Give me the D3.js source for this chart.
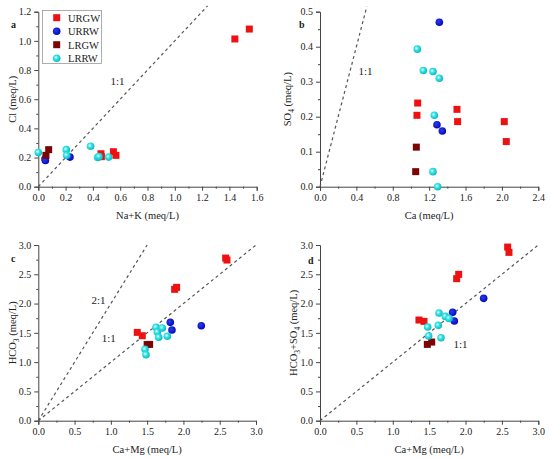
<!DOCTYPE html>
<html>
<head>
<meta charset="utf-8">
<script src="https://cdn.jsdelivr.net/npm/d3@7"></script>
<style>
  body { margin: 0; background: #fff; }
  text { font-family: "Liberation Serif", "Times New Roman", serif; fill: #222; }
</style>
</head>
<body>
<div id="chart"></div>
<script>
'use strict';
// series names
var seriesNames = ['URGW', 'URRW', 'LRGW', 'LRRW'];

// panel a: Na+K vs Cl
var urgwA = [[1.44, 1.013], [1.546, 1.081], [0.459, 0.226], [0.462, 0.206], [0.55, 0.24], [0.569, 0.215]];
var urrwA = [[0.049, 0.192], [0.052, 0.18], [0.232, 0.203]];
var lrgwA = [[0.056, 0.215], [0.076, 0.254]];
var lrrwA = [[0.0, 0.235], [0.205, 0.254], [0.208, 0.215], [0.383, 0.277], [0.435, 0.201], [0.445, 0.206], [0.515, 0.203]];

// panel b: Ca vs SO4
var urgwB = [[1.074, 0.239], [1.066, 0.204], [1.506, 0.221], [1.513, 0.186], [2.026, 0.186], [2.048, 0.129]];
var urrwB = [[1.312, 0.47], [1.286, 0.177], [1.345, 0.159]];
var lrgwB = [[1.059, 0.113], [1.052, 0.043]];
var lrrwB = [[1.07, 0.393], [1.136, 0.332], [1.242, 0.329], [1.312, 0.31], [1.257, 0.204], [1.242, 0.043], [1.293, 0.0]];

// panel c: Ca+Mg vs HCO3
var urgwC = [[1.364, 1.508], [1.433, 1.451], [1.879, 2.243], [1.906, 2.277], [2.582, 2.777], [2.6, 2.743]];
var urrwC = [[1.819, 1.679], [1.842, 1.548], [2.246, 1.622]];
var lrgwC = [[1.5, 1.3], [1.534, 1.303]];
var lrrwC = [[1.47, 1.219], [1.484, 1.127], [1.622, 1.595], [1.64, 1.514], [1.659, 1.424], [1.709, 1.583], [1.778, 1.441]];

// panel d: Ca+Mg vs HCO3+SO4
var urgwD = [[1.36, 1.719], [1.429, 1.696], [1.878, 2.425], [1.906, 2.499], [2.579, 2.965], [2.597, 2.874]];
var urrwD = [[1.823, 1.85], [1.846, 1.702], [2.249, 2.089]];
var lrgwD = [[1.475, 1.303], [1.535, 1.343]];
var lrrwD = [[1.48, 1.599], [1.493, 1.446], [1.635, 1.838], [1.626, 1.628], [1.663, 1.417], [1.722, 1.781], [1.773, 1.747]];

// tick labels
var ticksXA = [0, 0.2, 0.4, 0.6, 0.8, 1.0, 1.2, 1.4, 1.6];
var ticksYA = [0, 0.2, 0.4, 0.6, 0.8, 1.0, 1.2];
var ticksXB = [0, 0.4, 0.8, 1.2, 1.6, 2.0, 2.4];
var ticksYB = [0, 0.1, 0.2, 0.3, 0.4, 0.5];
var ticksCD = [0, 0.5, 1.0, 1.5, 2.0, 2.5, 3.0];

var colors = { URGW: '#ee1111', URRW: '#0a0fd0', LRGW: '#7a0505', LRRW: '#22dde0' };

var svg = d3.select('#chart').append('svg')
    .attr('width', 550)
    .attr('height', 459);

var defs = svg.append('defs');
var grad = defs.append('radialGradient').attr('id', 'gCyan')
    .attr('cx', '40%').attr('cy', '40%').attr('r', '60%');
grad.append('stop').attr('offset', '0%').attr('stop-color', '#e8ffff');
grad.append('stop').attr('offset', '45%').attr('stop-color', '#2fe3e6');
grad.append('stop').attr('offset', '100%').attr('stop-color', '#10b8c0');
var gradB = defs.append('radialGradient').attr('id', 'gBlue')
    .attr('cx', '40%').attr('cy', '40%').attr('r', '60%');
gradB.append('stop').attr('offset', '0%').attr('stop-color', '#2a3cf0');
gradB.append('stop').attr('offset', '100%').attr('stop-color', '#0508b8');

function drawPanel(opt) {
    var x = d3.scaleLinear().domain(opt.xDomain).range(opt.xRange);
    var y = d3.scaleLinear().domain(opt.yDomain).range(opt.yRange);
    var g = svg.append('g');

    // minor ticks
    var xMinor = [], yMinor = [];
    for (var i = 0; i < opt.xTicks.length - 1; i++) xMinor.push((opt.xTicks[i] + opt.xTicks[i + 1]) / 2);
    for (var j = 0; j < opt.yTicks.length - 1; j++) yMinor.push((opt.yTicks[j] + opt.yTicks[j + 1]) / 2);

    var xAxis = g.append('g').attr('transform', 'translate(0,' + opt.yRange[0] + ')')
        .call(d3.axisBottom(x).tickValues(opt.xTicks).tickFormat(d3.format('.1f')).tickSizeOuter(0).tickSize(4).tickPadding(3));
    g.append('g').attr('transform', 'translate(0,' + opt.yRange[0] + ')')
        .call(d3.axisBottom(x).tickValues(xMinor).tickFormat('').tickSizeOuter(0).tickSize(2))
        .select('.domain').remove();
    var yAxis = g.append('g').attr('transform', 'translate(' + opt.xRange[0] + ',0)')
        .call(d3.axisLeft(y).tickValues(opt.yTicks).tickFormat(d3.format('.1f')).tickSizeOuter(0).tickSize(4).tickPadding(3));
    g.append('g').attr('transform', 'translate(' + opt.xRange[0] + ',0)')
        .call(d3.axisLeft(y).tickValues(yMinor).tickFormat('').tickSizeOuter(0).tickSize(2))
        .select('.domain').remove();
    g.selectAll('.tick text').attr('font-size', 10).attr('font-family', '"Liberation Serif", serif').attr('fill', '#333');
    g.selectAll('.domain, .tick line').attr('stroke', '#444');

    // reference lines
    opt.refLines.forEach(function (r) {
        g.append('line')
            .attr('x1', x(0)).attr('y1', y(0))
            .attr('x2', x(r.x2)).attr('y2', y(r.x2 * r.slope))
            .attr('stroke', '#555').attr('stroke-width', 1.2)
            .attr('stroke-dasharray', '3,3');
        g.append('text').attr('x', x(r.lx)).attr('y', y(r.ly))
            .attr('font-size', 11).attr('text-anchor', 'middle').text(r.label);
    });

    // points
    opt.series.forEach(function (s, k) {
        var name = seriesNames[k];
        var isSquare = (name === 'URGW' || name === 'LRGW');
        if (isSquare) {
            g.selectAll(null).data(s).enter().append('rect')
                .attr('x', function (d) { return x(d[0]) - 3.5; })
                .attr('y', function (d) { return y(d[1]) - 3.5; })
                .attr('width', 7).attr('height', 7)
                .attr('fill', colors[name]);
        } else {
            g.selectAll(null).data(s).enter().append('circle')
                .attr('cx', function (d) { return x(d[0]); })
                .attr('cy', function (d) { return y(d[1]); })
                .attr('r', 3.8)
                .attr('fill', name === 'LRRW' ? 'url(#gCyan)' : 'url(#gBlue)');
        }
    });

    // panel letter
    g.append('text').attr('x', opt.letterPos[0]).attr('y', opt.letterPos[1])
        .attr('font-size', 10).attr('font-weight', 'bold').text(opt.letter);

    // axis titles
    var cx = (opt.xRange[0] + opt.xRange[1]) / 2;
    g.append('text').attr('x', cx).attr('y', opt.yRange[0] + 32)
        .attr('text-anchor', 'middle').attr('font-size', 10.5).text(opt.xTitle);
    var cy = (opt.yRange[0] + opt.yRange[1]) / 2;
    var yt = g.append('text')
        .attr('transform', 'translate(' + opt.yTitleX + ',' + cy + ') rotate(-90)')
        .attr('text-anchor', 'middle').attr('font-size', 10.5);
    opt.yTitle.forEach(function (p) {
        var t = yt.append('tspan').text(p[0]);
        if (p[1]) t.attr('font-size', 7.5).attr('dy', 3);
        else if (p[2]) t.attr('dy', -3);
    });
    return g;
}

drawPanel({
    xDomain: [0, 1.6], xRange: [38.3, 256.7],
    yDomain: [0, 1.2], yRange: [186.7, 11.7],
    xTicks: ticksXA, yTicks: ticksYA,
    series: [urgwA, urrwA, lrgwA, lrrwA],
    refLines: [{ slope: 1, x2: 1.24, lx: 0.58, ly: 0.7, label: '1:1' }],
    letter: 'a', letterPos: [11, 28],
    xTitle: 'Na+K (meq/L)', yTitleX: 16,
    yTitle: [['Cl (meq/L)']]
});

drawPanel({
    xDomain: [0, 2.4], xRange: [320, 538.3],
    yDomain: [0, 0.5], yRange: [186.7, 11.7],
    xTicks: ticksXB, yTicks: ticksYB,
    series: [urgwB, urrwB, lrgwB, lrrwB],
    refLines: [{ slope: 1, x2: 0.515, lx: 0.5, ly: 0.32, label: '1:1' }],
    letter: 'b', letterPos: [299, 28],
    xTitle: 'Ca (meq/L)', yTitleX: 291,
    yTitle: [['SO'], ['4', true], [' (meq/L)', false, true]]
});

drawPanel({
    xDomain: [0, 3.0], xRange: [38.3, 256],
    yDomain: [0, 3.0], yRange: [420.7, 245],
    xTicks: ticksCD, yTicks: ticksCD,
    series: [urgwC, urrwC, lrgwC, lrrwC],
    refLines: [
        { slope: 2, x2: 1.5, lx: 0.83, ly: 2.0, label: '2:1' },
        { slope: 1, x2: 3.0, lx: 0.97, ly: 1.35, label: '1:1' }
    ],
    letter: 'c', letterPos: [11, 262],
    xTitle: 'Ca+Mg (meq/L)', yTitleX: 16,
    yTitle: [['HCO'], ['3', true], [' (meq/L)', false, true]]
});

drawPanel({
    xDomain: [0, 3.0], xRange: [320, 538.3],
    yDomain: [0, 3.0], yRange: [420.7, 245],
    xTicks: ticksCD, yTicks: ticksCD,
    series: [urgwD, urrwD, lrgwD, lrrwD],
    refLines: [{ slope: 1, x2: 3.0, lx: 1.93, ly: 1.24, label: '1:1' }],
    letter: 'd', letterPos: [308, 264],
    xTitle: 'Ca+Mg (meq/L)', yTitleX: 297,
    yTitle: [['HCO'], ['3', true], ['+SO', false, true], ['4', true], [' (meq/L)', false, true]]
});

// legend in panel a
var legend = svg.append('g');
legend.append('rect')
    .attr('x', 42.5).attr('y', 10.5).attr('width', 59).attr('height', 53)
    .attr('fill', '#fff').attr('stroke', '#999').attr('stroke-width', 0.8);
seriesNames.forEach(function (name, k) {
    var ly = 17.7 + k * 13.5;
    if (name === 'URGW' || name === 'LRGW') {
        legend.append('rect').attr('x', 53.2).attr('y', ly - 3.5)
            .attr('width', 7).attr('height', 7).attr('fill', colors[name]);
    } else {
        legend.append('circle').attr('cx', 56.7).attr('cy', ly).attr('r', 3.8)
            .attr('fill', name === 'LRRW' ? 'url(#gCyan)' : 'url(#gBlue)');
    }
    legend.append('text').attr('x', 68).attr('y', ly + 3.8)
        .attr('font-size', 10.5).text(name);
});
</script>
</body>
</html>
